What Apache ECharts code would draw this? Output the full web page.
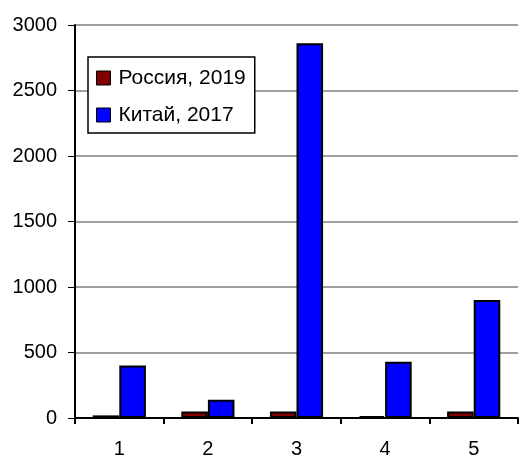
<!DOCTYPE html>
<html>
<head>
<meta charset="utf-8">
<script src="https://cdn.jsdelivr.net/npm/echarts@6/dist/echarts.min.js"></script>
<style>
  html, body { margin: 0; padding: 0; background: #fff; }
  #chart { width: 522px; height: 455px; }
</style>
</head>
<body>
<div id="chart"></div>
<script>
// данные
const categories = ["1", "2", "3", "4", "5"];
const russia2019 = [20, 50, 50, 15, 50];
const china2017 = [400, 140, 2860, 430, 900];
const seriesNames = ["Россия, 2019", "Китай, 2017"];

const chart = echarts.init(document.getElementById("chart"));
const font = "Liberation Sans, Arial, sans-serif";

const option = {
  animation: false,
  grid: { left: 75, right: 4, top: 25, bottom: 37, outerBoundsMode: "none", containLabel: false },
  legend: {
    orient: "vertical",
    left: 88,
    top: 57,
    padding: [10, 9, 7, 8],
    itemGap: 15,
    itemWidth: 14,
    itemHeight: 14,
    backgroundColor: "#fff",
    borderColor: "#000",
    borderWidth: 1.5,
    icon: "rect",
    itemStyle: { borderColor: "#000", borderWidth: 1 },
    textStyle: { fontFamily: font, fontSize: 21, lineHeight: 22, color: "#000", padding: [0, 0, 0, 3] },
    data: seriesNames
  },
  xAxis: {
    type: "category",
    data: categories,
    axisLine: { lineStyle: { color: "#000", width: 2 } },
    axisTick: { show: true, length: 6, lineStyle: { color: "#000", width: 2 } },
    axisLabel: { fontFamily: font, fontSize: 20, color: "#000", margin: 21 }
  },
  yAxis: {
    type: "value",
    min: 0,
    max: 3000,
    interval: 500,
    axisLine: { show: true, lineStyle: { color: "#000", width: 2 } },
    axisTick: { show: true, length: 7, lineStyle: { color: "#000", width: 1 } },
    splitLine: { lineStyle: { color: "#a0a0a0", width: 2 } },
    axisLabel: {
      fontFamily: font, fontSize: 20, color: "#000", margin: 18,
      formatter: v => String(v)
    }
  },
  series: [
    {
      name: seriesNames[0],
      type: "bar",
      data: russia2019,
      barGap: "0%",
      barCategoryGap: "40%",
      itemStyle: { color: "#800000", borderColor: "#000", borderWidth: 2 }
    },
    {
      name: seriesNames[1],
      type: "bar",
      data: china2017,
      barGap: "0%",
      barCategoryGap: "40%",
      itemStyle: { color: "#0000ff", borderColor: "#000", borderWidth: 2 }
    }
  ]
};

chart.setOption(option);
</script>
</body>
</html>
